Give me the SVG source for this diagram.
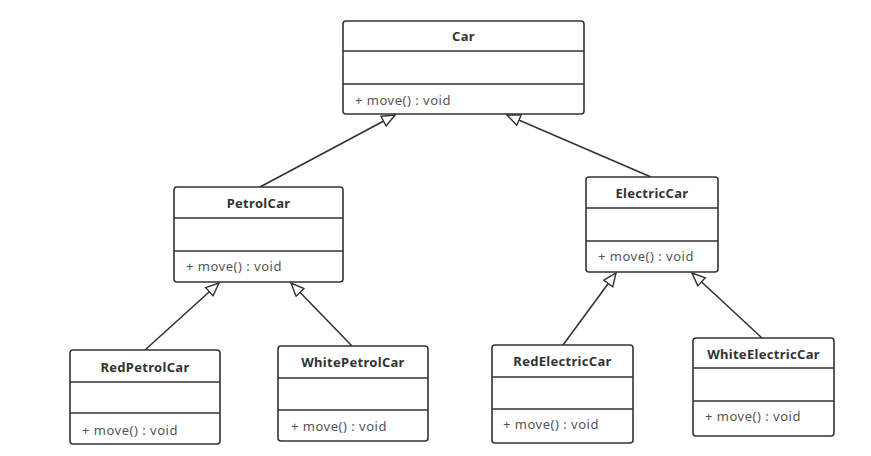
<svg xmlns="http://www.w3.org/2000/svg" width="871" height="456" viewBox="0 0 871 456">
<defs>
<marker id="tri" markerUnits="userSpaceOnUse" markerWidth="16" markerHeight="14" refX="14" refY="6.5" orient="auto">
<path d="M1,1 L14,6.5 L1,12 Z" fill="#fff" stroke="#333" stroke-width="1.4"/>
</marker>
</defs>
<style>
.box{fill:#fff;stroke:#333;stroke-width:1.6}
.div{stroke:#333;stroke-width:1.4}
.t{font-family:"Noto Sans","Open Sans",sans-serif;font-size:13px;font-weight:bold;fill:#333;text-anchor:middle;letter-spacing:0.3px}
.m{font-family:"Noto Sans","Open Sans",sans-serif;font-size:13px;fill:#555;letter-spacing:0.5px}
.c{stroke:#333;stroke-width:1.6;fill:none;marker-end:url(#tri)}
</style>
<rect width="871" height="456" fill="#fff"/>
<g id="connectors">
<line class="c" x1="260" y1="187" x2="395" y2="115"/>
<line class="c" x1="651" y1="177" x2="507" y2="115"/>
<line class="c" x1="145" y1="350" x2="219" y2="283"/>
<line class="c" x1="352" y1="346" x2="291" y2="283"/>
<line class="c" x1="563" y1="345" x2="616" y2="273"/>
<line class="c" x1="762" y1="338" x2="692" y2="273"/>
</g>
<g id="Car">
<rect class="box" x="343" y="21" width="241" height="93" rx="3"/>
<line class="div" x1="343" y1="51" x2="584" y2="51"/>
<line class="div" x1="343" y1="84" x2="584" y2="84"/>
<text class="t" x="463.5" y="41">Car</text>
<text class="m" x="355" y="105">+ move() : void</text>
</g>
<g id="PetrolCar">
<rect class="box" x="174" y="187" width="169" height="95" rx="3"/>
<line class="div" x1="174" y1="218" x2="343" y2="218"/>
<line class="div" x1="174" y1="251" x2="343" y2="251"/>
<text class="t" x="258.5" y="208">PetrolCar</text>
<text class="m" x="186" y="271">+ move() : void</text>
</g>
<g id="ElectricCar">
<rect class="box" x="586" y="177" width="132" height="95" rx="3"/>
<line class="div" x1="586" y1="208" x2="718" y2="208"/>
<line class="div" x1="586" y1="241" x2="718" y2="241"/>
<text class="t" x="652" y="198">ElectricCar</text>
<text class="m" x="598" y="261">+ move() : void</text>
</g>
<g id="RedPetrolCar">
<rect class="box" x="70" y="350" width="150" height="94" rx="3"/>
<line class="div" x1="70" y1="382" x2="220" y2="382"/>
<line class="div" x1="70" y1="413" x2="220" y2="413"/>
<text class="t" x="145" y="372">RedPetrolCar</text>
<text class="m" x="82" y="435">+ move() : void</text>
</g>
<g id="WhitePetrolCar">
<rect class="box" x="278" y="346" width="150" height="95" rx="3"/>
<line class="div" x1="278" y1="378" x2="428" y2="378"/>
<line class="div" x1="278" y1="410" x2="428" y2="410"/>
<text class="t" x="353" y="367">WhitePetrolCar</text>
<text class="m" x="291" y="431">+ move() : void</text>
</g>
<g id="RedElectricCar">
<rect class="box" x="492" y="345" width="141" height="98" rx="3"/>
<line class="div" x1="492" y1="377" x2="633" y2="377"/>
<line class="div" x1="492" y1="409" x2="633" y2="409"/>
<text class="t" x="562.5" y="366">RedElectricCar</text>
<text class="m" x="503" y="429">+ move() : void</text>
</g>
<g id="WhiteElectricCar">
<rect class="box" x="693" y="338" width="141" height="98" rx="3"/>
<line class="div" x1="693" y1="368" x2="834" y2="368"/>
<line class="div" x1="693" y1="401" x2="834" y2="401"/>
<text class="t" x="763.5" y="359">WhiteElectricCar</text>
<text class="m" x="705" y="421">+ move() : void</text>
</g>
</svg>
